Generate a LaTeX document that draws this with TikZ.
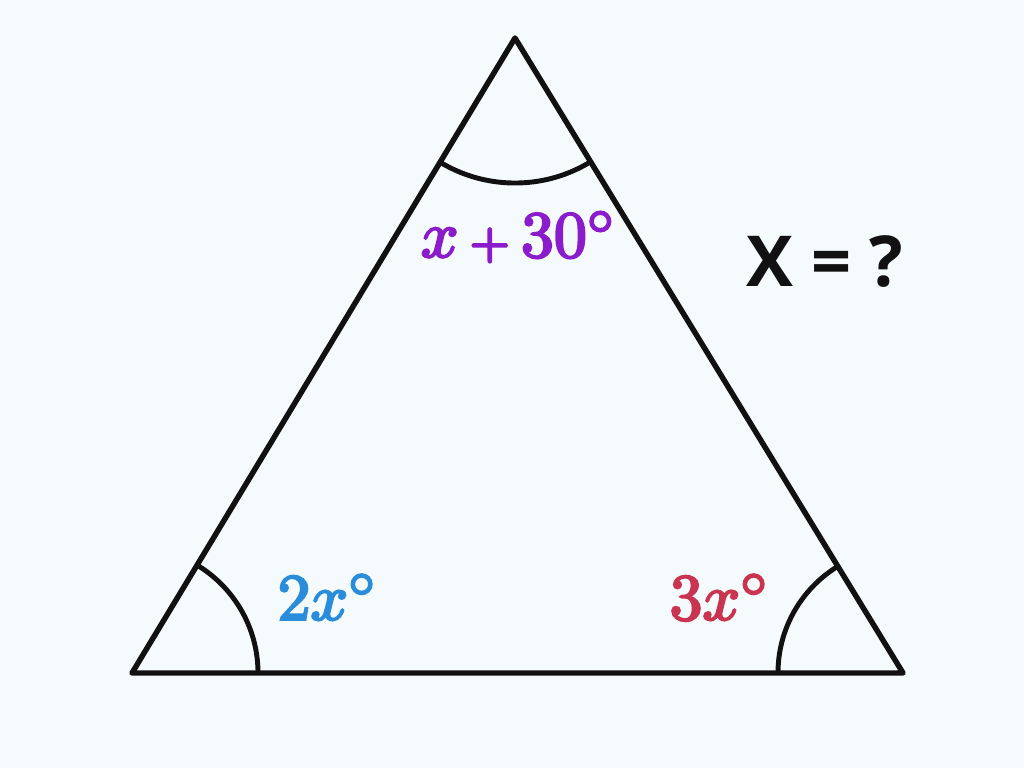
\documentclass[tikz,border=0pt]{standalone}
\usepackage{fontspec}
\newfontfamily\qfont{Open Sans}
\newcommand\heavytext[1]{\special{pdf:literal direct 2 Tr 0.35 w}#1\special{pdf:literal direct 0 Tr}}
\definecolor{bgc}{HTML}{F5FAFC}
\definecolor{linec}{HTML}{111111}
\definecolor{purp}{HTML}{8A1CCB}
\definecolor{bluec}{HTML}{2A8DDB}
\definecolor{redc}{HTML}{C93550}
\begin{document}
\begin{tikzpicture}[x=0.02cm,y=-0.02cm,
  side/.style={draw=linec,line width=3.1pt,line join=round,line cap=round},
  anglearc/.style={draw=linec,line width=2.8pt},
  lbl/.style={inner sep=0pt,scale=3.75}]
\fill[bgc] (0,0) rectangle (1024,768);
\useasboundingbox (0,0) rectangle (1024,768);
\coordinate (A) at (515,38);
\coordinate (B) at (132,673);
\coordinate (C) at (903,673);
\begin{scope}
\clip (A) -- (B) -- (C) -- cycle;
\draw[anglearc] (A) circle[radius=145];
\draw[anglearc] (B) circle[radius=126];
\draw[anglearc] (C) circle[radius=125];
\end{scope}
\draw[side] (A) -- (B) -- (C) -- cycle;
\node[lbl,text=purp] (la) at (519,237) {\heavytext{$x\,{\scriptstyle+}\,30^\circ$}};
\node[lbl,text=bluec] (lb) at (328,597) {\heavytext{$2x^\circ$}};
\node[lbl,text=redc] (lc) at (720,597) {\heavytext{$3x^\circ$}};
\node[inner sep=0pt,text=linec,font=\qfont\bfseries\fontsize{40}{46}\selectfont] (q) at (825,262) {X = ?};
\end{tikzpicture}
\end{document}
